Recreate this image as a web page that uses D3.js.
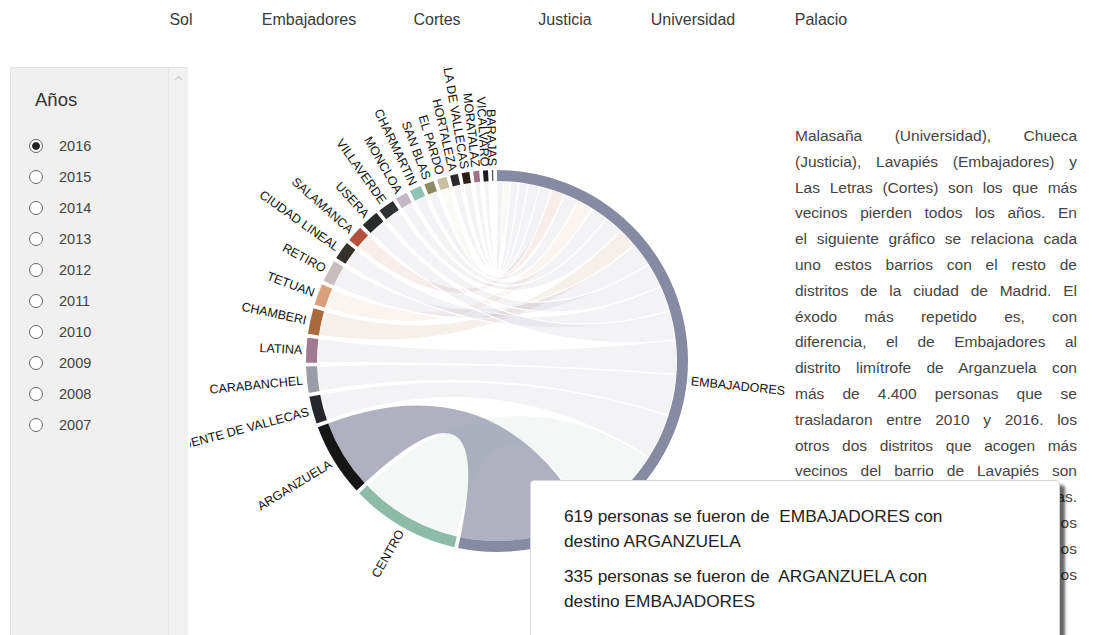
<!DOCTYPE html>
<html>
<head>
<meta charset="utf-8">
<script src="https://cdn.jsdelivr.net/npm/d3@7"></script>
<style>
body { margin:0; background:#fff; font-family:"Liberation Sans", Arial, sans-serif; width:1093px; height:635px; overflow:hidden; position:relative; }
#nav { position:absolute; left:117px; top:11px; }
#nav span { display:inline-block; width:128px; text-align:center; font-size:16px; color:#3a3a3a; }
#panel { position:absolute; left:10px; top:67px; width:176px; height:600px; background:#f0f0f0; border:1px solid #e2e2e2; }
#panel .scroll { position:absolute; left:157px; top:0; width:19px; height:100%; background:#f1f1f1; border-left:1px solid #e6e6e6; }
#panel .flecha { position:absolute; left:7px; top:9px; width:4px; height:4px; border-left:1px solid #c4c4c4; border-top:1px solid #c4c4c4; transform:rotate(45deg); }
#panel .titulo { position:absolute; left:24px; top:21px; font-size:18.5px; color:#333; }
.anio { position:absolute; left:18px; height:20px; font-size:14.5px; color:#444; line-height:20px; }
.anio .radio { position:absolute; left:0; top:3px; width:12px; height:12px; border:1px solid #666; border-radius:50%; background:#fff; }
.anio .radio.on { background:radial-gradient(circle, #222 0, #222 3.4px, #fff 4.4px); }
.anio .txt { position:absolute; left:30px; top:0; }
#drawing-area { position:absolute; left:190px; top:67px; }
#texto { position:absolute; left:795px; top:123px; width:282px; font-size:15.5px; color:#444; }
#texto div { height:25.8px; line-height:25.8px; text-align:justify; text-align-last:justify; white-space:nowrap; }
#tooltip { position:absolute; left:530px; top:480px; width:528px; height:200px; background:#fff; border:1px solid #d6d6d6; border-radius:4px; box-shadow:5px 5px 3px rgba(0,0,0,0.6); }
#tooltip p { margin:0 0 10px 33px; font-size:17.3px; line-height:25px; color:#222; white-space:pre; }
</style>
</head>
<body>
<div id="nav"></div>
<div id="panel">
  <div class="titulo">Años</div>
  <div id="anios"></div>
  <div class="scroll"><span class="flecha"></span></div>
</div>
<svg id="drawing-area"></svg>
<div id="texto"></div>
<div id="tooltip"></div>
<script>
// barrios del menu y años
var barrios = ["Sol", "Embajadores", "Cortes", "Justicia", "Universidad", "Palacio"];
var anios = [2016, 2015, 2014, 2013, 2012, 2011, 2010, 2009, 2008, 2007];

// distritos en el orden del circulo (despues de EMBAJADORES)
var distritos = ["CENTRO", "ARGANZUELA", "PUENTE DE VALLECAS", "CARABANCHEL", "LATINA",
  "CHAMBERI", "TETUAN", "RETIRO", "CIUDAD LINEAL", "SALAMANCA", "USERA", "VILLAVERDE",
  "MONCLOA", "CHARMARTIN", "SAN BLAS", "EL PARDO", "HORTALEZA", "VILLA DE VALLECAS",
  "MORATALAZ", "VICALVARO", "BARAJAS"];
// personas que se van de EMBAJADORES a cada distrito (2016)
var desdeEmbajadores = [420, 619, 220, 200, 165, 95, 80, 115, 125, 65, 140, 120,
  90, 80, 70, 35, 60, 55, 45, 40, 30];
// personas que llegan a EMBAJADORES desde cada distrito (2016)
var haciaEmbajadores = [498, 335, 125, 119, 113, 118, 97, 100, 82, 74, 82, 74,
  54, 54, 44, 44, 36, 35, 27, 23, 6];

var colores = ["#878aa3", "#8cbca8", "#161616", "#25262b", "#9a9ca8", "#a27a8f",
  "#a86b3e", "#d9a07a", "#c9bcbc", "#34302a", "#b5503c", "#282b2a", "#2e3031",
  "#c5b6c6", "#8fc3b4", "#8c8a60", "#c8c09f", "#2a2a2c", "#2e1e16", "#a07088",
  "#1d1b22", "#55555a"];

var parrafo = [
  "Malasaña (Universidad), Chueca",
  "(Justicia), Lavapiés (Embajadores) y",
  "Las Letras (Cortes) son los que más",
  "vecinos pierden todos los años. En",
  "el siguiente gráfico se relaciona cada",
  "uno estos barrios con el resto de",
  "distritos de la ciudad de Madrid. El",
  "éxodo más repetido es, con",
  "diferencia, el de Embajadores al",
  "distrito limítrofe de Arganzuela con",
  "más de 4.400 personas que se",
  "trasladaron entre 2010 y 2016. los",
  "otros dos distritos que acogen más",
  "vecinos del barrio de Lavapiés son",
  "Centro y Puente de Vallecas.",
  "Otros barrios ven partir a sus vecinos",
  "hacia Chamberí o Moncloa, y a menos",
  "hacia el sur de la ciudad y a los"
];

d3.select("#nav").selectAll("span").data(barrios).enter()
  .append("span").text(function(d){ return d; });

var filas = d3.select("#anios").selectAll("div").data(anios).enter()
  .append("div").attr("class", "anio")
  .style("top", function(d, i){ return (68 + i*31) + "px"; });
filas.append("span").attr("class", function(d, i){ return i === 0 ? "radio on" : "radio"; });
filas.append("span").attr("class", "txt").text(function(d){ return d; });

d3.select("#texto").selectAll("div").data(parrafo).enter()
  .append("div").text(function(d){ return d; });

var nombres = ["EMBAJADORES"].concat(distritos);
var matrix = nombres.map(function(a, i){
  return nombres.map(function(b, j){
    if (i === 0 && j > 0) return desdeEmbajadores[j-1];
    if (j === 0 && i > 0) return haciaEmbajadores[i-1];
    return 0;
  });
});

var width = 600;
var height = 568;
var outer = 191;
var inner = 180;
var da = d3.select("#drawing-area")
  .attr("width", width)
  .attr("height", height);

var chords = d3.chord()
  .padAngle(0.02)
  .sortSubgroups(d3.ascending)(matrix);

var color = d3.scaleOrdinal().domain(d3.range(nombres.length)).range(colores);
var arc = d3.arc().innerRadius(inner).outerRadius(outer);
var ribbon = d3.ribbon().radius(inner);

var g = da.append("g").attr("transform", "translate(307,294)");
var arg = nombres.indexOf("ARGANZUELA");

function activo(d){ return d.source.index === arg || d.target.index === arg; }

g.append("g").selectAll("path")
  .data(chords.slice().sort(function(a, b){ return activo(a) - activo(b); }))
  .enter().append("path")
  .attr("d", ribbon)
  .attr("fill", function(d){ return color(d.source.index); })
  .attr("fill-opacity", function(d){ return activo(d) ? 0.67 : 0.1; })
  .attr("stroke", "#fff")
  .attr("stroke-width", function(d){ return activo(d) ? 0 : 1.2; });

g.append("g").selectAll("path")
  .data(chords.groups)
  .enter().append("path")
  .attr("d", arc)
  .attr("fill", function(d){ return color(d.index); });

g.append("g").selectAll("text")
  .data(chords.groups)
  .enter().append("text")
  .each(function(d){ d.angle = (d.startAngle + d.endAngle) / 2; })
  .attr("dy", ".35em")
  .attr("transform", function(d){
    return "rotate(" + (d.angle * 180 / Math.PI - 90) + ") translate(" + (outer + 4) + ")" +
      (d.angle > Math.PI ? " rotate(180)" : "");
  })
  .style("text-anchor", function(d){ return d.angle > Math.PI ? "end" : null; })
  .style("font-size", "12.5px")
  .style("fill", "#111")
  .text(function(d){ return nombres[d.index]; });

// tooltip del flujo EMBAJADORES - ARGANZUELA
d3.select("#tooltip").selectAll("p")
  .data([[desdeEmbajadores[arg-1], "EMBAJADORES", "ARGANZUELA"], [haciaEmbajadores[arg-1], "ARGANZUELA", "EMBAJADORES"]])
  .enter().append("p")
  .style("margin-top", function(d, i){ return i === 0 ? "23px" : null; })
  .text(function(d){ return d[0] + " personas se fueron de  " + d[1] + " con\ndestino " + d[2]; });
</script>
</body>
</html>
